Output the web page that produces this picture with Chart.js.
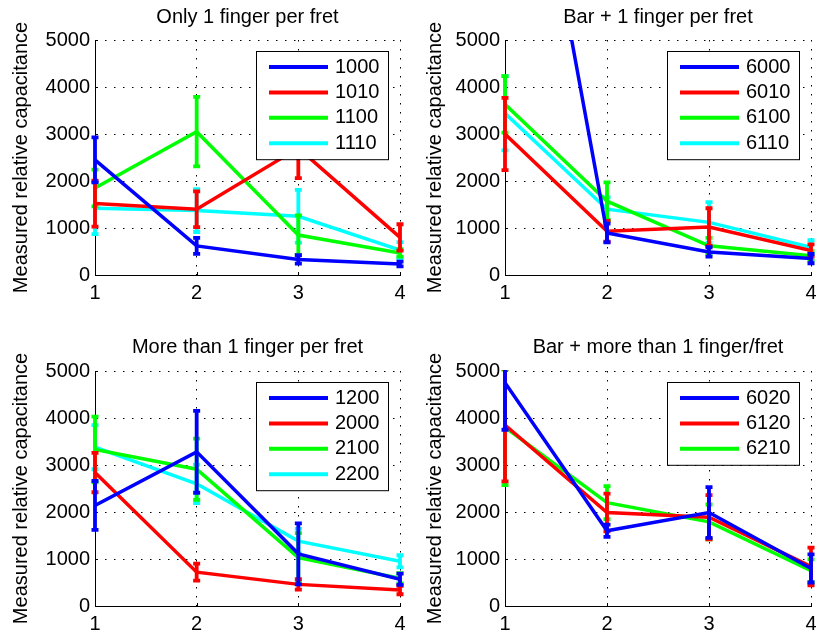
<!DOCTYPE html>
<html>
<head>
<meta charset="utf-8">
<title>Measured relative capacitance</title>
<script src="https://cdn.jsdelivr.net/npm/chart.js@4.4.0/dist/chart.umd.min.js"></script>
<style>
  body { margin: 0; background: #fff; }
  #wrap { position: relative; width: 816px; height: 635px; overflow: hidden; }
  canvas { position: absolute; }
</style>
</head>
<body>
<div id="wrap">
  <canvas id="c1" width="408" height="317" style="left:0;top:0"></canvas>
  <canvas id="c2" width="408" height="317" style="left:408px;top:0"></canvas>
  <canvas id="c3" width="408" height="318" style="left:0;top:317px"></canvas>
  <canvas id="c4" width="408" height="318" style="left:408px;top:317px"></canvas>
</div>
<script>
"use strict";

// fret positions on the x axis
const frets = [1, 2, 3, 4];
const yMax = 5000;

// Only 1 finger per fret
const names1 = ['1000', '1010', '1100', '1110'];
const s1000 = [2450, 620, 330, 235];
const s1010 = [1520, 1400, 2700, 800];
const s1100 = [1850, 3050, 850, 470];
const s1110 = [1420, 1370, 1250, 530];
const e1000 = [480, 170, 90, 50];
const e1010 = [490, 380, 640, 280];
const e1100 = [390, 740, 420, 80];
const e1110 = [550, 455, 560, 170];

// Bar + 1 finger per fret
const names2 = ['6000', '6010', '6100', '6110'];
const s6000 = [12750, 895, 490, 350];
const s6010 = [3000, 930, 1020, 520];
const s6100 = [3630, 1570, 620, 410];
const s6110 = [3440, 1400, 1120, 590];
const e6000 = [1500, 200, 100, 100];
const e6010 = [770, 220, 400, 130];
const e6100 = [600, 400, 170, 100];
const e6110 = [790, 250, 430, 150];

// More than 1 finger per fret
const names3 = ['1200', '2000', '2100', '2200'];
const s1200 = [2140, 3280, 1110, 570];
const s2000 = [2840, 720, 460, 340];
const s2100 = [3330, 2910, 1030, 590];
const s2200 = [3380, 2600, 1380, 950];
const e1200 = [520, 870, 650, 120];
const e2000 = [420, 180, 110, 90];
const e2100 = [700, 650, 520, 110];
const e2200 = [470, 410, 260, 130];

// Bar + more than 1 finger/fret
const names4 = ['6020', '6120', '6210'];
const s6020 = [4750, 1600, 1990, 800];
const s6120 = [3850, 1990, 1890, 840];
const s6210 = [3800, 2200, 1790, 750];
const e6020 = [1000, 130, 540, 300];
const e6120 = [1200, 400, 470, 400];
const e6210 = [1230, 350, 370, 240];

const colors = ['#0000ff', '#ff0000', '#00ff00', '#00ffff'];
const FONT = 'Liberation Sans, Arial, Helvetica, sans-serif';

Chart.defaults.color = '#000';
Chart.defaults.font.family = FONT;

// vertical error bars with small caps, drawn right after each line
const errorBars = {
  id: 'errorBars',
  afterDatasetDraw(chart, args) {
    const ds = chart.data.datasets[args.index];
    if (!ds.err) return;
    const ctx = chart.ctx;
    const a = chart.chartArea;
    const xs = chart.scales.x, ys = chart.scales.y;
    ctx.save();
    ctx.beginPath();
    ctx.rect(a.left - 6, a.top - 1, a.right - a.left + 12, a.bottom - a.top + 2);
    ctx.clip();
    ctx.strokeStyle = ds.borderColor;
    ctx.lineWidth = 3.8;
    ctx.beginPath();
    ds.data.forEach((pt, i) => {
      const px = xs.getPixelForValue(pt.x);
      const hi = ys.getPixelForValue(pt.y + ds.err[i]);
      const lo = ys.getPixelForValue(pt.y - ds.err[i]);
      ctx.moveTo(px, hi); ctx.lineTo(px, lo);
      ctx.moveTo(px - 3.5, hi); ctx.lineTo(px + 3.5, hi);
      ctx.moveTo(px - 3.5, lo); ctx.lineTo(px + 3.5, lo);
    });
    ctx.stroke();
    ctx.restore();
  }
};

// short inward ticks on the left and bottom axes
const innerTicks = {
  id: 'innerTicks',
  beforeDatasetsDraw(chart) {
    const ctx = chart.ctx;
    const a = chart.chartArea;
    ctx.save();
    ctx.strokeStyle = '#000';
    ctx.lineWidth = 1;
    ctx.beginPath();
    chart.scales.x.ticks.forEach(t => {
      const px = Math.round(chart.scales.x.getPixelForValue(t.value)) + 0.5;
      ctx.moveTo(px, a.bottom); ctx.lineTo(px, a.bottom - 3);
    });
    chart.scales.y.ticks.forEach(t => {
      const py = Math.round(chart.scales.y.getPixelForValue(t.value)) + 0.5;
      ctx.moveTo(a.left, py); ctx.lineTo(a.left + 3, py);
    });
    ctx.stroke();
    ctx.restore();
  }
};

// boxed legend in the upper right corner, drawn on top of the lines
const boxLegend = {
  id: 'boxLegend',
  afterDatasetsDraw(chart, args, opts) {
    const ctx = chart.ctx;
    const a = chart.chartArea;
    const sets = chart.data.datasets;
    const h = opts.first * 2 + opts.row * (sets.length - 1);
    const left = Math.round(a.right - opts.inset - opts.width);
    const top = Math.round(a.top + opts.top);
    ctx.save();
    ctx.fillStyle = '#fff';
    ctx.fillRect(left, top, opts.width, h);
    ctx.strokeStyle = '#000';
    ctx.lineWidth = 1;
    ctx.strokeRect(left + 0.5, top + 0.5, opts.width, h);
    ctx.font = opts.fontSize + 'px ' + FONT;
    ctx.textBaseline = 'middle';
    ctx.textAlign = 'left';
    sets.forEach((ds, i) => {
      const yy = top + opts.first + i * opts.row;
      ctx.strokeStyle = ds.borderColor;
      ctx.lineWidth = opts.lineWidth;
      ctx.beginPath();
      ctx.moveTo(left + opts.lineFrom, yy);
      ctx.lineTo(left + opts.lineTo, yy);
      ctx.stroke();
      ctx.fillStyle = '#000';
      ctx.fillText(ds.label, left + opts.textX, yy);
    });
    ctx.restore();
  }
};

const panels = [
  { id: 'c1', title: 'Only 1 finger per fret', names: names1,
    values: [s1000, s1010, s1100, s1110], errs: [e1000, e1010, e1100, e1110],
    yWidth: 95, right: 8, xHeight: 42, titleTop: 5, titleBottom: 11, yTitlePad: 9 },
  { id: 'c2', title: 'Bar + 1 finger per fret', names: names2,
    values: [s6000, s6010, s6100, s6110], errs: [e6000, e6010, e6100, e6110],
    yWidth: 97, right: 5, xHeight: 42, titleTop: 5, titleBottom: 11, yTitlePad: 15 },
  { id: 'c3', title: 'More than 1 finger per fret', names: names3,
    values: [s1200, s2000, s2100, s2200], errs: [e1200, e2000, e2100, e2200],
    yWidth: 95, right: 8, xHeight: 29, titleTop: 18, titleBottom: 12, yTitlePad: 9 },
  { id: 'c4', title: 'Bar + more than 1 finger/fret', names: names4,
    values: [s6020, s6120, s6210], errs: [e6020, e6120, e6210],
    yWidth: 97, right: 5, xHeight: 29, titleTop: 18, titleBottom: 12, yTitlePad: 15 }
];

panels.forEach(p => {
  const datasets = p.names.map((name, k) => ({
    label: name,
    data: frets.map((f, i) => ({ x: f, y: p.values[k][i] })),
    err: p.errs[k],
    borderColor: colors[k],
    backgroundColor: colors[k],
    borderWidth: 3.5,
    pointRadius: 0,
    tension: 0
  }));

  new Chart(document.getElementById(p.id), {
    type: 'line',
    data: { datasets: datasets },
    plugins: [innerTicks, errorBars, boxLegend],
    options: {
      responsive: false,
      animation: false,
      events: [],
      layout: { padding: { left: 0, right: p.right, top: 0, bottom: 0 } },
      plugins: {
        legend: { display: false },
        tooltip: { enabled: false },
        title: {
          display: true,
          text: p.title,
          fullSize: false,
          font: { size: 20, weight: 'normal' },
          padding: { top: p.titleTop, bottom: p.titleBottom }
        },
        boxLegend: {
          width: 132, inset: 12, top: 11, first: 16, row: 25.4,
          lineFrom: 13, lineTo: 72, textX: 79, lineWidth: 4, fontSize: 20
        }
      },
      scales: {
        x: {
          type: 'linear',
          min: 1,
          max: 4,
          afterFit(s) { s.height = p.xHeight; s.paddingLeft = 0; s.paddingRight = 0; },
          ticks: { stepSize: 1, padding: 6, maxRotation: 0, autoSkip: false, font: { size: 20 },
                   callback: v => String(v) },
          grid: { color: '#000', lineWidth: 1, drawTicks: false },
          border: { display: true, color: '#000', width: 1, dash: [1.5, 7.5] }
        },
        y: {
          min: 0,
          max: yMax,
          afterFit(s) { s.width = p.yWidth; },
          ticks: { stepSize: 1000, padding: 5, font: { size: 20 }, callback: v => String(v) },
          grid: { color: '#000', lineWidth: 1, drawTicks: false },
          border: { display: true, color: '#000', width: 1, dash: [1.5, 7.5] },
          title: {
            display: true,
            text: 'Measured relative capacitance',
            font: { size: 20 },
            padding: { top: p.yTitlePad, bottom: 0 }
          }
        }
      }
    }
  });
});
</script>
</body>
</html>
